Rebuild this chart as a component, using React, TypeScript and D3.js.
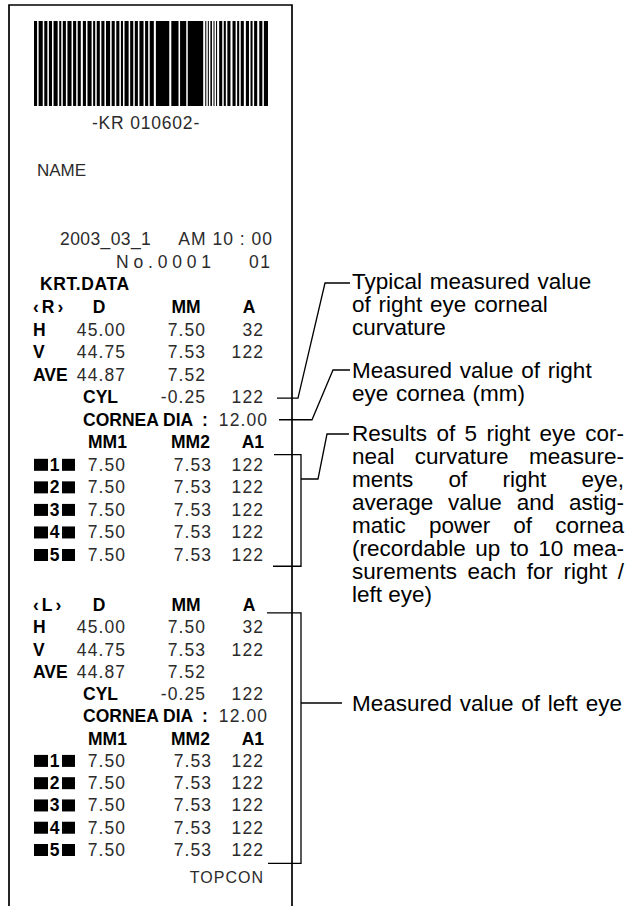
import React, { useMemo } from "react";
import * as d3 from "d3";

// ---------- data ----------
const barcodeText = "-KR 010602-";
const nameLabel = "NAME";
const dateText = "2003_03_1";
const timeText = "AM 10 : 00";
const numberText = "No.0001";
const numberSuffix = "01";
const titleText = "KRT.DATA";
const brandText = "TOPCON";

// alternating bar / gap widths (relative units), starting with a bar
const barcodeWidths = [
  3, 1.5, 4, 1.5, 3, 1.5, 3, 1.5, 4, 1.5, 2, 1.5, 3, 1.5, 4, 1.5, 3, 1.5, 3, 2,
  3, 1.5, 4, 1.5, 2, 1.5, 3, 1.5, 3, 1.5, 4, 1.5, 3, 1.5, 3, 1.5, 2, 1.5, 4, 1.5,
  3, 1.5, 3, 1.5, 4, 1.5, 3, 1.5, 4, 2,
  13, 2, 7, 1.5, 6, 1.5, 15, 2,
  1, 1.5, 1, 1.5, 1.5, 1.5, 1, 1.5, 1, 2,
  3, 1.5, 2, 1.5, 3, 2, 3, 1.5, 2, 1.5, 3, 2, 3, 1.5, 2, 1.5, 3, 2, 3, 1.5, 4,
];

const colHeaders = ["D", "MM", "A"];
const measHeaders = ["MM1", "MM2", "A1"];
const rowLabels = ["H", "V", "AVE"];
const cylLabel = "CYL";
const diaLabel = "CORNEA DIA";
const measIndex = ["1", "2", "3", "4", "5"];

const rightEye = "‹R›";
const rightD = ["45.00", "44.75", "44.87"];
const rightMM = ["7.50", "7.53", "7.52"];
const rightA = ["32", "122", ""];
const rightCyl = ["-0.25", "122"];
const rightDia = "12.00";
const rightMM1 = ["7.50", "7.50", "7.50", "7.50", "7.50"];
const rightMM2 = ["7.53", "7.53", "7.53", "7.53", "7.53"];
const rightA1 = ["122", "122", "122", "122", "122"];

const leftEye = "‹L›";
const leftD = ["45.00", "44.75", "44.87"];
const leftMM = ["7.50", "7.53", "7.52"];
const leftA = ["32", "122", ""];
const leftCyl = ["-0.25", "122"];
const leftDia = "12.00";
const leftMM1 = ["7.50", "7.50", "7.50", "7.50", "7.50"];
const leftMM2 = ["7.53", "7.53", "7.53", "7.53", "7.53"];
const leftA1 = ["122", "122", "122", "122", "122"];

const noteTypical = ["Typical measured value", "of right eye corneal", "curvature"];
const noteCornea = ["Measured value of right", "eye cornea (mm)"];
const noteResults = [
  "Results of 5 right eye cor-",
  "neal curvature measure-",
  "ments of right eye,",
  "average value and astig-",
  "matic power of cornea",
  "(recordable up to 10 mea-",
  "surements each for right /",
  "left eye)",
];
const noteLeft = ["Measured value of left eye"];

// ---------- style ----------
const SANS = "'Liberation Sans', Arial, Helvetica, sans-serif";
const LABEL_SIZE = 17.5;
const VALUE_SIZE = 17.5;
const VALUE_LS = 1.1;
const NOTE_SIZE = 22.5;
const NOTE_LH = 23;
const NOTE_X = 352;
const NOTE_RIGHT = 624;
const INK = "#000";
const VALUE_INK = "#2b2b2b";
const BASE = 6; // center -> baseline offset

const COL = {
  label: 33,
  dHead: 99,
  mmHead: 186,
  aHead: 249,
  dEnd: 125,
  mmEnd: 205,
  aEnd: 263,
  sub: 83,
  colon: 202,
  diaEnd: 267,
  m1Head: 107.5,
  m2Head: 190.5,
  a1HeadEnd: 264,
  m1End: 125,
  m2End: 211,
  a1End: 263,
};

function Label({ x, y, text, anchor = "start", ls = 0 }: any) {
  return (
    <text
      x={x}
      y={y + BASE}
      textAnchor={anchor}
      fontFamily={SANS}
      fontWeight="bold"
      fontSize={LABEL_SIZE}
      letterSpacing={ls}
      fill={INK}
    >
      {text}
    </text>
  );
}

function Value({ x, y, text, anchor = "end", ls = VALUE_LS }: any) {
  return (
    <text
      x={anchor === "end" ? x + ls : x}
      y={y + BASE}
      textAnchor={anchor}
      fontFamily={SANS}
      fontSize={VALUE_SIZE}
      letterSpacing={ls}
      fill={VALUE_INK}
    >
      {text}
    </text>
  );
}

function Section({ y, eye, d, mm, a, cyl, dia, mm1, mm2, a1 }: any) {
  return (
    <g>
      <Label x={COL.label} y={y(0)} text={eye} ls={3} />
      <Label x={COL.dHead} y={y(0)} text={colHeaders[0]} anchor="middle" />
      <Label x={COL.mmHead} y={y(0)} text={colHeaders[1]} anchor="middle" />
      <Label x={COL.aHead} y={y(0)} text={colHeaders[2]} anchor="middle" />
      {rowLabels.map((lab, i) => (
        <g key={lab}>
          <Label x={COL.label} y={y(i + 1)} text={lab} />
          <Value x={COL.dEnd} y={y(i + 1)} text={d[i]} />
          <Value x={COL.mmEnd} y={y(i + 1)} text={mm[i]} />
          {a[i] ? <Value x={COL.aEnd} y={y(i + 1)} text={a[i]} /> : null}
        </g>
      ))}
      <Label x={COL.sub} y={y(4)} text={cylLabel} />
      <Value x={COL.mmEnd} y={y(4)} text={cyl[0]} />
      <Value x={COL.aEnd} y={y(4)} text={cyl[1]} />
      <Label x={COL.sub} y={y(5)} text={diaLabel} />
      <Label x={COL.colon} y={y(5)} text=":" />
      <Value x={COL.diaEnd} y={y(5)} text={dia} />
      <Label x={COL.m1Head} y={y(6)} text={measHeaders[0]} anchor="middle" />
      <Label x={COL.m2Head} y={y(6)} text={measHeaders[1]} anchor="middle" />
      <Label x={COL.a1HeadEnd} y={y(6)} text={measHeaders[2]} anchor="end" />
      {measIndex.map((n, i) => {
        const cy = y(i + 7);
        return (
          <g key={n}>
            <rect x={34} y={cy - 6} width={14} height={12} fill={INK} />
            <Label x={54.5} y={cy} text={n} anchor="middle" />
            <rect x={62} y={cy - 6} width={13} height={12} fill={INK} />
            <Value x={COL.m1End} y={cy} text={mm1[i]} />
            <Value x={COL.m2End} y={cy} text={mm2[i]} />
            <Value x={COL.a1End} y={cy} text={a1[i]} />
          </g>
        );
      })}
    </g>
  );
}

function Note({ lines, top, justify = false, widths }: any) {
  return (
    <g fontFamily={SANS} fontSize={NOTE_SIZE} fill={INK} wordSpacing={justify ? 0 : 1.5}>
      {lines.map((line: string, i: number) => {
        const yy = top + i * NOTE_LH;
        const isLast = i === lines.length - 1;
        if (!justify || isLast || !widths) {
          return (
            <text key={i} x={NOTE_X} y={yy}>
              {line}
            </text>
          );
        }
        const words = line.split(" ");
        const ws = words.map((w) => widths(w));
        const total = d3.sum(ws);
        const gap = words.length > 1 ? (NOTE_RIGHT - NOTE_X - total) / (words.length - 1) : 0;
        let cx = NOTE_X;
        return (
          <text key={i} y={yy}>
            {words.map((w, j) => {
              const x0 = cx;
              cx += ws[j] + gap;
              return (
                <tspan key={j} x={x0}>
                  {w}
                </tspan>
              );
            })}
          </text>
        );
      })}
    </g>
  );
}

export default function App() {
  const W = 632;
  const H = 906;

  const bars = useMemo(() => {
    const total = d3.sum(barcodeWidths);
    const x = d3.scaleLinear().domain([0, total]).range([34, 268]);
    const out: { x0: number; x1: number }[] = [];
    let acc = 0;
    barcodeWidths.forEach((w, i) => {
      if (i % 2 === 0) out.push({ x0: x(acc), x1: x(acc + w) });
      acc += w;
    });
    return out;
  }, []);

  const measure = useMemo(() => {
    try {
      const c = document.createElement("canvas");
      const ctx = c.getContext("2d");
      if (!ctx) return null;
      ctx.font = `${NOTE_SIZE}px ${SANS}`;
      return (s: string) => ctx.measureText(s).width;
    } catch (e) {
      return null;
    }
  }, []);

  // row-index -> vertical center
  const yR = d3.scaleLinear().domain([0, 11]).range([307, 555]);
  const yL = d3.scaleLinear().domain([0, 11]).range([605, 850]);

  const lineProps = { fill: "none", stroke: INK, strokeWidth: 1.3 };

  return (
    <svg
      width={W}
      height={H}
      viewBox={`0 0 ${W} ${H}`}
      style={{ position: "absolute", left: 0, top: 0, display: "block", background: "#fff" }}
    >
      <rect x={0} y={0} width={W} height={H} fill="#fff" />
      {/* paper */}
      <path d={`M9,${H + 2} V5 H292 V${H + 2}`} fill="none" stroke={INK} strokeWidth={1.7} />

      {/* barcode */}
      {bars.map((b, i) => (
        <rect key={i} x={b.x0} y={21} width={b.x1 - b.x0} height={85} fill={INK} />
      ))}
      <text x={146} y={123 + BASE} textAnchor="middle" fontFamily={SANS} fontSize={17.5} letterSpacing={0.8} fill={VALUE_INK}>
        {barcodeText}
      </text>
      <text x={37} y={170 + BASE} fontFamily={SANS} fontSize={17} fill={VALUE_INK}>
        {nameLabel}
      </text>

      {/* header */}
      <Value x={60} y={yR(-3)} text={dateText} anchor="start" ls={0.4} />
      <Value x={272} y={yR(-3)} text={timeText} ls={1} />
      <Value x={116} y={yR(-2)} text={numberText} anchor="start" ls={4.8} />
      <Value x={270} y={yR(-2)} text={numberSuffix} ls={1.5} />
      <Label x={40} y={yR(-1)} text={titleText} ls={0.6} />

      <Section y={yR} eye={rightEye} d={rightD} mm={rightMM} a={rightA} cyl={rightCyl} dia={rightDia} mm1={rightMM1} mm2={rightMM2} a1={rightA1} />
      <Section y={yL} eye={leftEye} d={leftD} mm={leftMM} a={leftA} cyl={leftCyl} dia={leftDia} mm1={leftMM1} mm2={leftMM2} a1={leftA1} />

      <text x={263 + 1} y={yL(12.2) + BASE} textAnchor="end" fontFamily={SANS} fontSize={16} letterSpacing={1} fill={VALUE_INK}>
        {brandText}
      </text>

      {/* leaders and brackets */}
      <path d={`M277,${yR(4) + 1} H298 L325,283 H350`} {...lineProps} />
      <path d={`M279,${yR(5)} H312 L333,370 H350`} {...lineProps} />
      <path d={`M274,${yR(6.5) + 1} H301 V${yR(11.5)} H273`} {...lineProps} />
      <path d={`M301,479 H318 L327,434 H349`} {...lineProps} />
      <path d={`M267,${yL(0.35)} H301 V${yL(11.6)} H268`} {...lineProps} />
      <path d={`M301,703 H342`} {...lineProps} />

      {/* notes */}
      <Note lines={noteTypical} top={289} />
      <Note lines={noteCornea} top={378} />
      <Note lines={noteResults} top={441} justify widths={measure} />
      <Note lines={noteLeft} top={711} />
    </svg>
  );
}
